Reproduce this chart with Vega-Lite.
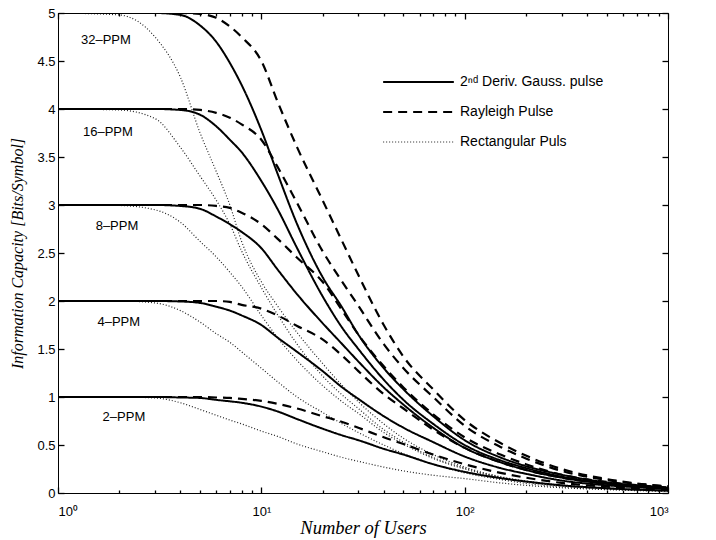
{
"$schema": "https://vega.github.io/schema/vega-lite/v6.json",
"width": 610, "height": 480,
"autosize": {"type": "none"},
"padding": {"left": 58, "top": 13, "right": 48, "bottom": 47},
"background": "white",
"config": {
  "view": {"stroke": "black", "strokeWidth": 1},
  "axis": {"domainOpacity": 0, "gridOpacity": 0, "labelFont": "Liberation Sans", "labelFontSize": 13, "labelColor": "black", "titleFont": "Liberation Serif", "titleFontStyle": "italic", "titleFontWeight": "normal", "titleColor": "black"},
  "legend": {"orient": "none", "legendX": 324, "legendY": 59, "title": null, "symbolType": "stroke", "symbolSize": 5000, "labelFontSize": 14, "labelFont": "Liberation Sans", "labelColor": "black", "clipHeight": 20, "rowPadding": 10, "labelOffset": 5}
},
"datasets": {
  "wide": [
    {"N":1,"S2":1,"S4":2,"S8":3,"S16":4,"S32":5,"D2":1,"D4":2,"D8":3,"D16":4,"D32":5,"R2":1,"R4":2,"R8":3,"R16":4,"R32":5},
    {"N":2,"S2":1,"S4":2,"S8":3,"S16":4,"S32":5,"D2":1,"D4":2,"D8":3,"D16":4,"D32":5,"R2":1,"R4":2,"R8":2.995,"R16":3.99,"R32":4.98},
    {"N":3,"S2":1,"S4":2,"S8":3,"S16":4,"S32":5,"D2":1,"D4":2,"D8":3,"D16":4,"D32":5,"R2":0.99,"R4":1.98,"R8":2.95,"R16":3.9,"R32":4.75},
    {"N":4,"S2":0.995,"S4":1.995,"S8":2.99,"S16":3.99,"S32":4.98,"D2":1,"D4":2,"D8":3,"D16":4,"D32":5,"R2":0.94,"R4":1.9,"R8":2.82,"R16":3.6,"R32":4.33},
    {"N":5,"S2":0.99,"S4":1.98,"S8":2.96,"S16":3.94,"S32":4.87,"D2":1,"D4":2,"D8":3,"D16":3.99,"D32":4.99,"R2":0.87,"R4":1.78,"R8":2.62,"R16":3.3,"R32":3.75},
    {"N":6,"S2":0.97,"S4":1.94,"S8":2.88,"S16":3.82,"S32":4.7,"D2":0.995,"D4":2,"D8":2.99,"D16":3.96,"D32":4.95,"R2":0.81,"R4":1.66,"R8":2.46,"R16":3.05,"R32":3.35},
    {"N":7,"S2":0.955,"S4":1.9,"S8":2.8,"S16":3.68,"S32":4.48,"D2":0.99,"D4":1.99,"D8":2.97,"D16":3.91,"D32":4.86,"R2":0.76,"R4":1.57,"R8":2.3,"R16":2.8,"R32":3.0},
    {"N":8,"S2":0.94,"S4":1.85,"S8":2.72,"S16":3.55,"S32":4.25,"D2":0.98,"D4":1.96,"D8":2.92,"D16":3.84,"D32":4.75,"R2":0.72,"R4":1.47,"R8":2.15,"R16":2.52,"R32":2.62},
    {"N":10,"S2":0.9,"S4":1.75,"S8":2.55,"S16":3.25,"S32":3.78,"D2":0.96,"D4":1.92,"D8":2.8,"D16":3.68,"D32":4.5,"R2":0.645,"R4":1.3,"R8":1.85,"R16":2.14,"R32":2.2},
    {"N":12,"S2":0.85,"S4":1.62,"S8":2.33,"S16":2.96,"S32":3.33,"D2":0.93,"D4":1.85,"D8":2.65,"D16":3.4,"D32":4.08,"R2":0.59,"R4":1.16,"R8":1.62,"R16":1.86,"R32":1.95},
    {"N":15,"S2":0.77,"S4":1.47,"S8":2.07,"S16":2.55,"S32":2.8,"D2":0.88,"D4":1.74,"D8":2.45,"D16":3.02,"D32":3.6,"R2":0.51,"R4":1.0,"R8":1.38,"R16":1.55,"R32":1.67},
    {"N":20,"S2":0.67,"S4":1.27,"S8":1.77,"S16":2.05,"S32":2.25,"D2":0.8,"D4":1.6,"D8":2.2,"D16":2.52,"D32":3.05,"R2":0.43,"R4":0.84,"R8":1.12,"R16":1.22,"R32":1.35},
    {"N":25,"S2":0.6,"S4":1.1,"S8":1.55,"S16":1.72,"S32":1.93,"D2":0.74,"D4":1.43,"D8":1.9,"D16":2.2,"D32":2.62,"R2":0.37,"R4":0.72,"R8":0.95,"R16":1.02,"R32":1.12},
    {"N":30,"S2":0.55,"S4":0.98,"S8":1.37,"S16":1.5,"S32":1.65,"D2":0.68,"D4":1.27,"D8":1.65,"D16":1.95,"D32":2.27,"R2":0.33,"R4":0.63,"R8":0.83,"R16":0.88,"R32":0.95},
    {"N":40,"S2":0.46,"S4":0.8,"S8":1.1,"S16":1.18,"S32":1.3,"D2":0.58,"D4":1.03,"D8":1.32,"D16":1.55,"D32":1.75,"R2":0.27,"R4":0.5,"R8":0.63,"R16":0.66,"R32":0.72},
    {"N":50,"S2":0.4,"S4":0.68,"S8":0.92,"S16":0.97,"S32":1.08,"D2":0.51,"D4":0.88,"D8":1.1,"D16":1.3,"D32":1.42,"R2":0.23,"R4":0.41,"R8":0.51,"R16":0.53,"R32":0.57},
    {"N":70,"S2":0.3,"S4":0.53,"S8":0.68,"S16":0.72,"S32":0.8,"D2":0.4,"D4":0.66,"D8":0.82,"D16":1.0,"D32":1.08,"R2":0.185,"R4":0.3,"R8":0.36,"R16":0.37,"R32":0.4},
    {"N":100,"S2":0.22,"S4":0.38,"S8":0.47,"S16":0.5,"S32":0.55,"D2":0.3,"D4":0.47,"D8":0.58,"D16":0.7,"D32":0.76,"R2":0.15,"R4":0.21,"R8":0.25,"R16":0.26,"R32":0.27},
    {"N":150,"S2":0.155,"S4":0.26,"S8":0.32,"S16":0.34,"S32":0.37,"D2":0.21,"D4":0.32,"D8":0.4,"D16":0.48,"D32":0.52,"R2":0.105,"R4":0.14,"R8":0.16,"R16":0.165,"R32":0.17},
    {"N":200,"S2":0.12,"S4":0.2,"S8":0.24,"S16":0.26,"S32":0.28,"D2":0.16,"D4":0.24,"D8":0.3,"D16":0.36,"D32":0.39,"R2":0.08,"R4":0.1,"R8":0.115,"R16":0.12,"R32":0.125},
    {"N":300,"S2":0.08,"S4":0.13,"S8":0.16,"S16":0.17,"S32":0.19,"D2":0.105,"D4":0.16,"D8":0.19,"D16":0.23,"D32":0.25,"R2":0.055,"R4":0.065,"R8":0.075,"R16":0.075,"R32":0.078},
    {"N":500,"S2":0.05,"S4":0.08,"S8":0.095,"S16":0.1,"S32":0.11,"D2":0.065,"D4":0.095,"D8":0.115,"D16":0.135,"D32":0.145,"R2":0.035,"R4":0.04,"R8":0.045,"R16":0.045,"R32":0.046},
    {"N":700,"S2":0.035,"S4":0.06,"S8":0.07,"S16":0.075,"S32":0.08,"D2":0.047,"D4":0.068,"D8":0.082,"D16":0.095,"D32":0.1,"R2":0.025,"R4":0.028,"R8":0.032,"R16":0.032,"R32":0.033},
    {"N":1000,"S2":0.025,"S4":0.04,"S8":0.048,"S16":0.05,"S32":0.055,"D2":0.033,"D4":0.048,"D8":0.058,"D16":0.066,"D32":0.07,"R2":0.018,"R4":0.02,"R8":0.022,"R16":0.022,"R32":0.023}
  ],
  "curves": [
    {"key":"S2","pulse":"2ⁿᵈ Deriv. Gauss. pulse"},{"key":"S4","pulse":"2ⁿᵈ Deriv. Gauss. pulse"},{"key":"S8","pulse":"2ⁿᵈ Deriv. Gauss. pulse"},{"key":"S16","pulse":"2ⁿᵈ Deriv. Gauss. pulse"},{"key":"S32","pulse":"2ⁿᵈ Deriv. Gauss. pulse"},
    {"key":"D2","pulse":"Rayleigh Pulse"},{"key":"D4","pulse":"Rayleigh Pulse"},{"key":"D8","pulse":"Rayleigh Pulse"},{"key":"D16","pulse":"Rayleigh Pulse"},{"key":"D32","pulse":"Rayleigh Pulse"},
    {"key":"R2","pulse":"Rectangular Puls"},{"key":"R4","pulse":"Rectangular Puls"},{"key":"R8","pulse":"Rectangular Puls"},{"key":"R16","pulse":"Rectangular Puls"},{"key":"R32","pulse":"Rectangular Puls"}
  ],
  "labels": [
    {"N":1.72,"C":4.72,"label":"32–PPM"},
    {"N":1.76,"C":3.76,"label":"16–PPM"},
    {"N":1.95,"C":2.78,"label":"8–PPM"},
    {"N":1.99,"C":1.78,"label":"4–PPM"},
    {"N":2.11,"C":0.79,"label":"2–PPM"}
  ]
},
"layer": [
  {
    "data": {"name": "wide"},
    "transform": [
      {"fold": ["R2","R4","R8","R16","R32","D2","D4","D8","D16","D32","S2","S4","S8","S16","S32"], "as": ["key","C"]},
      {"lookup": "key", "from": {"data": {"name": "curves"}, "key": "key", "fields": ["pulse"]}}
    ],
    "mark": {"type": "line", "interpolate": "monotone", "clip": true},
    "encoding": {
      "x": {"field": "N", "type": "quantitative", "scale": {"type": "log", "domain": [1, 1000]},
        "axis": {"orient": "bottom", "title": "Number of Users", "titleFontSize": 18.5, "values": [1,10,100,1000],
          "labelExpr": "datum.value==1?'10⁰':datum.value==10?'10¹':datum.value==100?'10²':'10³'",
          "ticks": true, "tickColor": "black", "tickWidth": 1.3, "tickSize": 6, "offset": -6, "labelPadding": 12, "titlePadding": 0}},
      "y": {"field": "C", "type": "quantitative", "scale": {"domain": [0, 5]},
        "axis": {"orient": "left", "title": "Information Capacity [Bits/Symbol]", "titleFontSize": 16, "values": [0,0.5,1,1.5,2,2.5,3,3.5,4,4.5,5], "format": "~g", "ticks": true, "tickColor": "black", "tickWidth": 1.3, "tickSize": 6, "offset": -6, "labelPadding": 3, "titlePadding": 11}},
      "detail": {"field": "key"},
      "color": {"field": "pulse", "type": "nominal", "scale": {"domain": ["2ⁿᵈ Deriv. Gauss. pulse","Rayleigh Pulse","Rectangular Puls"], "range": ["black","black","#222222"]}, "legend": {"title": null}},
      "strokeDash": {"field": "pulse", "type": "nominal", "scale": {"domain": ["2ⁿᵈ Deriv. Gauss. pulse","Rayleigh Pulse","Rectangular Puls"], "range": [[1,0],[9,6],[1,2]]}, "legend": {"title": null}},
      "strokeWidth": {"field": "pulse", "type": "nominal", "scale": {"type": "ordinal", "domain": ["2ⁿᵈ Deriv. Gauss. pulse","Rayleigh Pulse","Rectangular Puls"], "range": [2,2.2,1.2]}, "legend": {"title": null}}
    }
  },
  {
    "data": {"name": "labels"},
    "mark": {"type": "text", "font": "Liberation Sans", "fontSize": 13, "color": "black", "align": "center", "baseline": "middle"},
    "encoding": {
      "x": {"field": "N", "type": "quantitative", "scale": {"type": "log", "domain": [1, 1000]},
        "axis": {"orient": "top", "title": null, "labels": false, "values": [1,10,100,1000], "ticks": true, "tickColor": "black", "tickWidth": 1.3, "tickSize": 6, "offset": -6}},
      "y": {"field": "C", "type": "quantitative", "scale": {"domain": [0, 5]},
        "axis": {"orient": "right", "title": null, "labels": false, "values": [0,0.5,1,1.5,2,2.5,3,3.5,4,4.5,5], "ticks": true, "tickColor": "black", "tickWidth": 1.3, "tickSize": 6, "offset": -6}},
      "text": {"field": "label"}
    }
  },
  {
    "data": {"name": "labels"},
    "mark": {"type": "text", "opacity": 0},
    "encoding": {
      "x": {"field": "N", "type": "quantitative", "scale": {"type": "log", "domain": [1, 1000]},
        "axis": {"orient": "bottom", "title": null, "labels": false, "values": [2,3,4,5,6,7,8,9,20,30,40,50,60,70,80,90,200,300,400,500,600,700,800,900], "ticks": true, "tickColor": "black", "tickWidth": 1.3, "tickSize": 3, "offset": -3}},
      "y": {"field": "C", "type": "quantitative", "scale": {"domain": [0, 5]}, "axis": null},
      "text": {"field": "label"}
    }
  },
  {
    "data": {"name": "labels"},
    "mark": {"type": "text", "opacity": 0},
    "encoding": {
      "x": {"field": "N", "type": "quantitative", "scale": {"type": "log", "domain": [1, 1000]},
        "axis": {"orient": "top", "title": null, "labels": false, "values": [2,3,4,5,6,7,8,9,20,30,40,50,60,70,80,90,200,300,400,500,600,700,800,900], "ticks": true, "tickColor": "black", "tickWidth": 1.3, "tickSize": 3, "offset": -3}},
      "y": {"field": "C", "type": "quantitative", "scale": {"domain": [0, 5]}, "axis": null},
      "text": {"field": "label"}
    }
  }
],
"resolve": {"axis": {"x": "independent", "y": "independent"}}
}
